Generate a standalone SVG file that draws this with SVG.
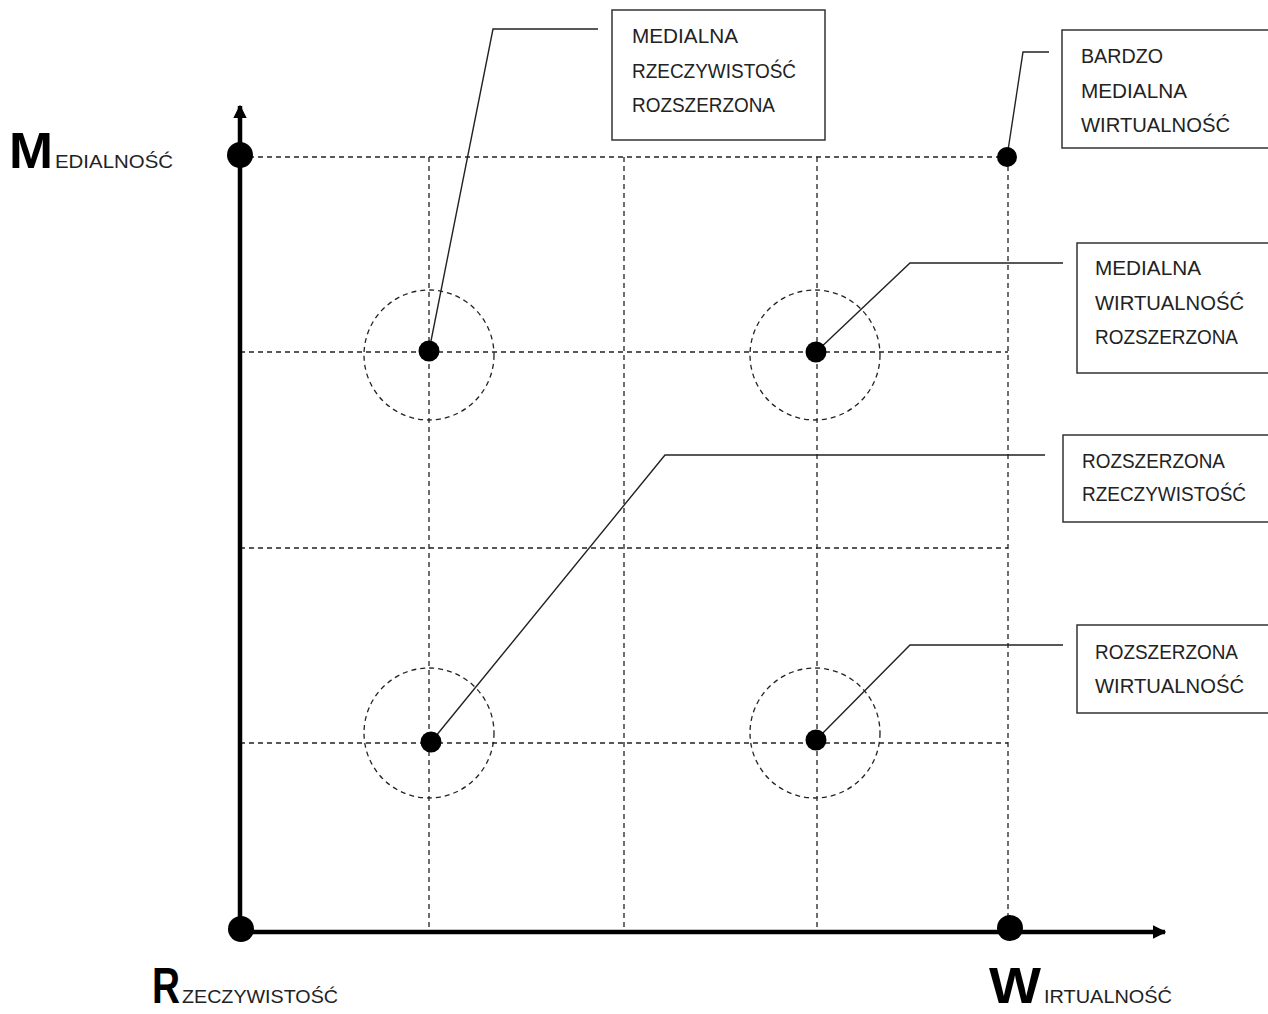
<svg xmlns="http://www.w3.org/2000/svg" width="1268" height="1014" viewBox="0 0 1268 1014">
  <defs>
    <style>
      .grid { stroke: #222; stroke-width: 1.3; stroke-dasharray: 5 4; fill: none; }
      .axis { stroke: #000; stroke-width: 4.5; fill: none; }
      .lead { stroke: #222; stroke-width: 1.4; fill: none; }
      .box { fill: #fff; stroke: #333; stroke-width: 1.5; }
      .lbl { font-family: "Liberation Sans", Arial, sans-serif; font-size: 20px; fill: #222; }
      .big { font-family: "Liberation Sans", Arial, sans-serif; font-weight: bold; font-size: 50px; fill: #000; }
      .small { font-family: "Liberation Sans", Arial, sans-serif; font-size: 18px; fill: #222; }
    </style>
    <marker id="arr" viewBox="0 0 10 10" refX="9" refY="5" markerWidth="3" markerHeight="3" orient="auto" markerUnits="strokeWidth">
      <path d="M0,0 L10,5 L0,10 Z" fill="#000"/>
    </marker>
  </defs>
  <rect width="1268" height="1014" fill="#fff"/>

  <g id="grid">
    <line class="grid" x1="240" y1="157" x2="1008" y2="157"/>
    <line class="grid" x1="240" y1="352" x2="1008" y2="352"/>
    <line class="grid" x1="240" y1="548" x2="1008" y2="548"/>
    <line class="grid" x1="240" y1="743" x2="1008" y2="743"/>
    <line class="grid" x1="429" y1="157" x2="429" y2="932"/>
    <line class="grid" x1="624" y1="157" x2="624" y2="932"/>
    <line class="grid" x1="817" y1="157" x2="817" y2="932"/>
    <line class="grid" x1="1008" y1="157" x2="1008" y2="932"/>
    <circle class="grid" cx="429" cy="355" r="65"/>
    <circle class="grid" cx="815" cy="355" r="65"/>
    <circle class="grid" cx="429" cy="733" r="65"/>
    <circle class="grid" cx="815" cy="733" r="65"/>
  </g>

  <g id="axes">
    <line class="axis" x1="240" y1="932" x2="240" y2="106" marker-end="url(#arr)"/>
    <line class="axis" x1="240" y1="932" x2="1165" y2="932" marker-end="url(#arr)"/>
  </g>

  <g id="connectors">
    <polyline class="lead" points="429,351 493,29 598,29"/>
    <polyline class="lead" points="1007,157 1023,52 1049,52"/>
    <polyline class="lead" points="816,352 910,263 1063,263"/>
    <polyline class="lead" points="431,742 665,455 1045,455"/>
    <polyline class="lead" points="816,740 910,645 1063,645"/>
  </g>

  <g id="points">
    <circle cx="240" cy="155" r="13" fill="#000"/>
    <circle cx="241" cy="929" r="13" fill="#000"/>
    <circle cx="1010" cy="928" r="13" fill="#000"/>
    <circle cx="1007" cy="157" r="10" fill="#000"/>
    <circle cx="429" cy="351" r="10.5" fill="#000"/>
    <circle cx="816" cy="352" r="10.5" fill="#000"/>
    <circle cx="431" cy="742" r="10.5" fill="#000"/>
    <circle cx="816" cy="740" r="10.5" fill="#000"/>
  </g>

  <g id="axis-medialnosc">
    <text class="big" x="9" y="168" textLength="44" lengthAdjust="spacingAndGlyphs">M</text>
    <text class="small" x="55" y="168" textLength="118" lengthAdjust="spacingAndGlyphs">EDIALNOŚĆ</text>
  </g>
  <g id="axis-rzeczywistosc">
    <text class="big" x="152" y="1003" textLength="28" lengthAdjust="spacingAndGlyphs">R</text>
    <text class="small" x="182" y="1003" textLength="156" lengthAdjust="spacingAndGlyphs">ZECZYWISTOŚĆ</text>
  </g>
  <g id="axis-wirtualnosc">
    <text class="big" x="989" y="1003" textLength="52" lengthAdjust="spacingAndGlyphs">W</text>
    <text class="small" x="1044" y="1003" textLength="128" lengthAdjust="spacingAndGlyphs">IRTUALNOŚĆ</text>
  </g>

  <g id="node-mrr">
    <rect class="box" x="612" y="10" width="213" height="130"/>
    <text class="lbl" x="632" y="43" textLength="106" lengthAdjust="spacingAndGlyphs">MEDIALNA</text>
    <text class="lbl" x="632" y="78" textLength="164" lengthAdjust="spacingAndGlyphs">RZECZYWISTOŚĆ</text>
    <text class="lbl" x="632" y="112" textLength="143" lengthAdjust="spacingAndGlyphs">ROZSZERZONA</text>
  </g>
  <g id="node-bmw">
    <rect class="box" x="1062" y="30" width="220" height="118"/>
    <text class="lbl" x="1081" y="63" textLength="82" lengthAdjust="spacingAndGlyphs">BARDZO</text>
    <text class="lbl" x="1081" y="98" textLength="106" lengthAdjust="spacingAndGlyphs">MEDIALNA</text>
    <text class="lbl" x="1081" y="132" textLength="149" lengthAdjust="spacingAndGlyphs">WIRTUALNOŚĆ</text>
  </g>
  <g id="node-mwr">
    <rect class="box" x="1077" y="243" width="205" height="130"/>
    <text class="lbl" x="1095" y="275" textLength="106" lengthAdjust="spacingAndGlyphs">MEDIALNA</text>
    <text class="lbl" x="1095" y="310" textLength="149" lengthAdjust="spacingAndGlyphs">WIRTUALNOŚĆ</text>
    <text class="lbl" x="1095" y="344" textLength="143" lengthAdjust="spacingAndGlyphs">ROZSZERZONA</text>
  </g>
  <g id="node-rr">
    <rect class="box" x="1063" y="435" width="219" height="87"/>
    <text class="lbl" x="1082" y="468" textLength="143" lengthAdjust="spacingAndGlyphs">ROZSZERZONA</text>
    <text class="lbl" x="1082" y="501" textLength="164" lengthAdjust="spacingAndGlyphs">RZECZYWISTOŚĆ</text>
  </g>
  <g id="node-rw">
    <rect class="box" x="1077" y="625" width="205" height="88"/>
    <text class="lbl" x="1095" y="659" textLength="143" lengthAdjust="spacingAndGlyphs">ROZSZERZONA</text>
    <text class="lbl" x="1095" y="693" textLength="149" lengthAdjust="spacingAndGlyphs">WIRTUALNOŚĆ</text>
  </g>
</svg>
